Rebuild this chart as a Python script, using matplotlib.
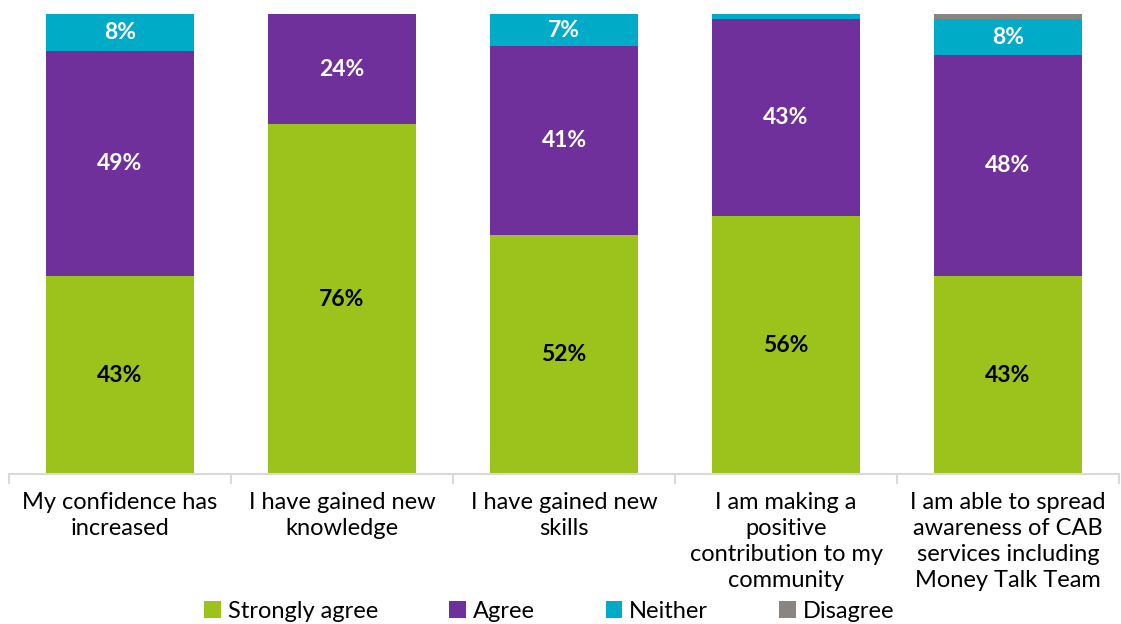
import numpy as np
import matplotlib.pyplot as plt
from matplotlib.patches import Patch

categories = ["My confidence has\nincreased",
              "I have gained new\nknowledge",
              "I have gained new\nskills",
              "I am making a\npositive\ncontribution to my\ncommunity",
              "I am able to spread\nawareness of CAB\nservices including\nMoney Talk Team"]
strongly_agree = [43, 76, 52, 56, 43]
agree = [49, 24, 41, 43, 48]
neither = [8, 0, 7, 1, 8]
disagree = [0, 0, 0, 0, 1]

series = ["Strongly agree", "Agree", "Neither", "Disagree"]
colors = ["#9BC31C", "#70309B", "#00ABC8", "#8A8580"]
label_colors = ["black", "white", "white", "white"]

plt.rcParams['font.family'] = ['Lato', 'DejaVu Sans']

fig = plt.figure(figsize=(11.21, 6.24), dpi=100)
ax = fig.add_axes([9 / 1121, 150 / 624, 1110 / 1121, 460 / 624])

x = np.arange(len(categories))
bottom = np.zeros(len(categories))
for name, vals, col, lc in zip(series, [strongly_agree, agree, neither, disagree], colors, label_colors):
    vals = np.array(vals, dtype=float)
    ax.bar(x, vals, width=0.667, bottom=bottom, color=col, edgecolor="none")
    for xi, b, v in zip(x, bottom, vals):
        if v >= 5:
            ax.text(xi, b + v / 2, f"{v:.0f}%", ha="center", va="center",
                    color=lc, fontsize=16.5, fontweight="bold")
    bottom += vals

ax.set_xlim(-0.5, len(categories) - 0.5)
ax.set_ylim(0, 100)
ax.set_yticks([])
for s in ["top", "right", "left"]:
    ax.spines[s].set_visible(False)
ax.spines["bottom"].set_color("#D9D9D9")
ax.spines["bottom"].set_linewidth(1.5)

# category labels and separator ticks between groups
ax.set_xticks(x)
ax.set_xticklabels(categories, fontsize=17, linespacing=1.3)
ax.tick_params(axis="x", which="major", length=0, pad=13)
ax.set_xticks(np.arange(-0.5, len(categories)), minor=True)
ax.tick_params(axis="x", which="minor", length=7, color="#D9D9D9", width=1.5)

handles = [Patch(facecolor=c, edgecolor="none") for c in colors]
fig.legend(handles, series, loc="center", bbox_to_anchor=(0.49, 0.02), ncol=4,
           frameon=False, fontsize=17, handlelength=0.7, handleheight=0.7,
           handletextpad=0.3, columnspacing=3.0)

fig.savefig("out.png", dpi=100)
